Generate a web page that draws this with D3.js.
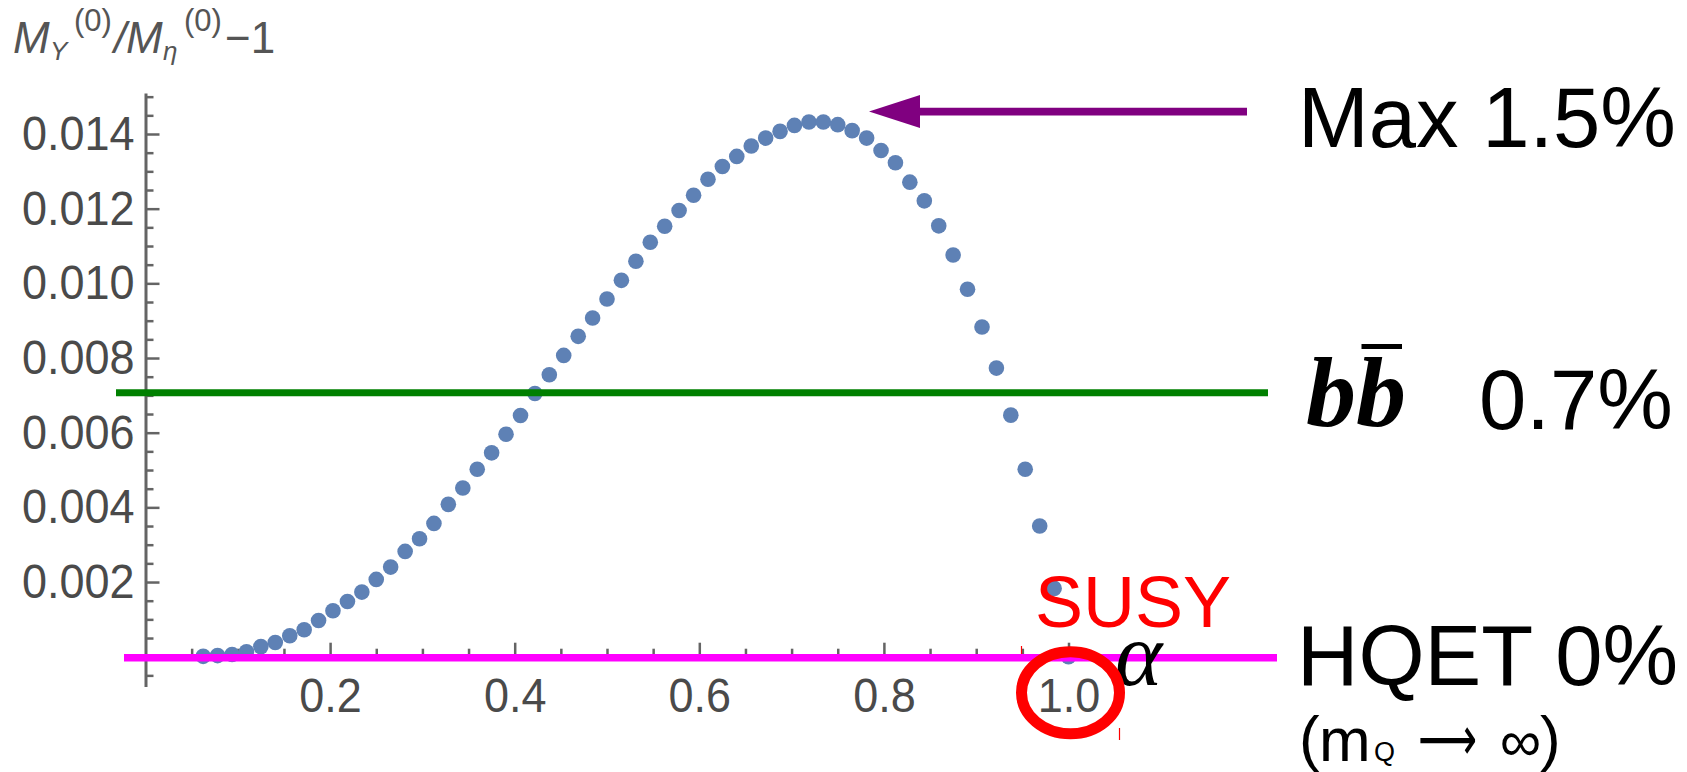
<!DOCTYPE html>
<html>
<head>
<meta charset="utf-8">
<script src="https://cdn.jsdelivr.net/npm/d3@7"></script>
<style>
  html, body { margin: 0; padding: 0; background: #fff; }
  svg { display: block; }
</style>
</head>
<body>
<svg id="chart" width="1687" height="772" font-family="Liberation Sans, Arial, sans-serif"></svg>
<script>
// ---- data ----
const alpha = [
  0.0625, 0.0781, 0.0938, 0.1094, 0.125, 0.1406, 0.1563, 0.1719, 0.1875, 0.2031,
  0.2188, 0.2344, 0.25, 0.2656, 0.2813, 0.2969, 0.3125, 0.3281, 0.3438, 0.3594,
  0.375, 0.3906, 0.4063, 0.4219, 0.4375, 0.4531, 0.4688, 0.4844, 0.5, 0.5156,
  0.5313, 0.5469, 0.5625, 0.5781, 0.5938, 0.6094, 0.625, 0.6406, 0.6563, 0.6719,
  0.6875, 0.7031, 0.7188, 0.7344, 0.75, 0.7656, 0.7813, 0.7969, 0.8125, 0.8281,
  0.8438, 0.8594, 0.875, 0.8906, 0.9063, 0.9219, 0.9375, 0.9531, 0.9688, 0.9844, 1.0
];
const ratio = [
  0.00001, 0.00003, 0.00006, 0.00013, 0.00027, 0.00038, 0.00056, 0.00072, 0.00097, 0.00123,
  0.00148, 0.00173, 0.00207, 0.00240, 0.00282, 0.00316, 0.00357, 0.00408, 0.00452, 0.00502,
  0.00546, 0.00596, 0.00646, 0.00705, 0.00755, 0.00807, 0.00858, 0.00907, 0.00958, 0.01008,
  0.01059, 0.01110, 0.01153, 0.01195, 0.01236, 0.01279, 0.01313, 0.01340, 0.01368, 0.01389,
  0.01407, 0.01423, 0.01432, 0.01432, 0.01425, 0.01409, 0.01389, 0.01356, 0.01323, 0.01271,
  0.01221, 0.01154, 0.01076, 0.00984, 0.00883, 0.00773, 0.00647, 0.00502, 0.00350, 0.00183, 0.00000
];
const xTicks = [0.2, 0.4, 0.6, 0.8, 1.0];
const xTickLabels = ["0.2", "0.4", "0.6", "0.8", "1.0"];
const xMinorTicks = [0.05, 0.1, 0.15, 0.25, 0.3, 0.35, 0.45, 0.5, 0.55, 0.65, 0.7, 0.75, 0.85, 0.9, 0.95];
const yTicks = [0.002, 0.004, 0.006, 0.008, 0.010, 0.012, 0.014];
const yTickLabels = ["0.002", "0.004", "0.006", "0.008", "0.010", "0.012", "0.014"];
const yMinorTicks = [-0.0005, 0.0005, 0.001, 0.0015, 0.0025, 0.003, 0.0035, 0.0045, 0.005, 0.0055,
  0.0065, 0.007, 0.0075, 0.0085, 0.009, 0.0095, 0.0105, 0.011, 0.0115, 0.0125, 0.013, 0.0135, 0.0145, 0.015];
const bbLevel = 0.00707;   // b b-bar line
const hqetLevel = 0;       // HQET line
const maxLevel = 0.0146;   // arrow level

// ---- scales ----
const svg = d3.select("#chart");
const x = d3.scaleLinear().domain([0, 1]).range([145.5, 1068.5]);
const y = d3.scaleLinear().domain([0, 0.014]).range([656.7, 134]);

const axisColor = "#646464";
const labelColor = "#4a4a4a";
const sans = "Liberation Sans, Arial, sans-serif";
const serif = "Liberation Serif, Times New Roman, serif";

// ---- y axis ----
const yAxisScale = y.copy().domain([-0.0008, 0.0151]).range([y(-0.0008), y(0.0151)]);
const yAxisG = svg.append("g").attr("transform", `translate(${x(0)},0)`)
  .call(d3.axisLeft(yAxisScale).tickValues(yTicks)
    .tickFormat((d, i) => yTickLabels[i])
    .tickSizeInner(-14).tickSizeOuter(0).tickPadding(11));
yAxisG.attr("font-family", sans).attr("font-size", 45);
yAxisG.select(".domain").attr("stroke", axisColor).attr("stroke-width", 3);
yAxisG.selectAll(".tick line").attr("stroke", axisColor).attr("stroke-width", 2.5);
yAxisG.selectAll(".tick text").attr("fill", labelColor).attr("transform", "scale(1,1.08)");
const yMinorG = svg.append("g").attr("transform", `translate(${x(0)},0)`)
  .call(d3.axisRight(yAxisScale).tickValues(yMinorTicks).tickFormat("").tickSizeInner(8).tickSizeOuter(0));
yMinorG.select(".domain").remove();
yMinorG.selectAll(".tick line").attr("stroke", axisColor).attr("stroke-width", 2.5);

// ---- x axis ----
const xAxisScale = x.copy().domain([0, 1.04]).range([x(0), x(1.04)]);
const xAxisG = svg.append("g").attr("transform", `translate(0,${y(0)})`)
  .call(d3.axisBottom(xAxisScale).tickValues(xTicks)
    .tickFormat((d, i) => xTickLabels[i])
    .tickSizeInner(-14).tickSizeOuter(0).tickPadding(21));
xAxisG.attr("font-family", sans).attr("font-size", 45);
xAxisG.select(".domain").attr("stroke", axisColor).attr("stroke-width", 3);
xAxisG.selectAll(".tick line").attr("stroke", axisColor).attr("stroke-width", 2.5);
xAxisG.selectAll(".tick text").attr("fill", labelColor)
  .attr("transform", "translate(0,-2) scale(1,1.08)");
const xMinorG = svg.append("g").attr("transform", `translate(0,${y(0)})`)
  .call(d3.axisTop(xAxisScale).tickValues(xMinorTicks).tickFormat("").tickSizeInner(8).tickSizeOuter(0));
xMinorG.select(".domain").remove();
xMinorG.selectAll(".tick line").attr("stroke", axisColor).attr("stroke-width", 2.5);

// ---- y axis title ----
const title = svg.append("text").attr("fill", "#555").attr("font-size", 44).attr("font-family", sans);
title.append("tspan").attr("x", 13).attr("y", 53).attr("font-style", "italic").text("M");
title.append("tspan").attr("x", 50).attr("y", 60).attr("font-size", 26).attr("font-style", "italic").text("Υ");
title.append("tspan").attr("x", 74).attr("y", 31).attr("font-size", 31).text("(0)");
title.append("tspan").attr("x", 114).attr("y", 53).attr("font-style", "italic").text("/");
title.append("tspan").attr("x", 126).attr("y", 53).attr("font-style", "italic").text("M");
title.append("tspan").attr("x", 163).attr("y", 60).attr("font-size", 26).attr("font-style", "italic").text("η");
title.append("tspan").attr("x", 184).attr("y", 31).attr("font-size", 31).text("(0)");
title.append("tspan").attr("x", 225).attr("y", 53).text("−1");

// ---- points ----
const pts = alpha.map((a, i) => ({ a, v: ratio[i] }));
svg.append("g").selectAll("circle").data(pts).join("circle")
  .attr("cx", d => x(d.a)).attr("cy", d => y(d.v)).attr("r", 7.8)
  .attr("fill", "#5E81B5");

// ---- reference lines ----
svg.append("line").attr("x1", 116).attr("x2", 1268).attr("y1", y(bbLevel)).attr("y2", y(bbLevel))
  .attr("stroke", "#008000").attr("stroke-width", 7);
svg.append("line").attr("x1", 124).attr("x2", 1277).attr("y1", y(hqetLevel) + 1).attr("y2", y(hqetLevel) + 1)
  .attr("stroke", "#FF00FF").attr("stroke-width", 7.5);

// ---- purple arrow ----
const ay = y(maxLevel);
svg.append("line").attr("x1", 915).attr("x2", 1247).attr("y1", ay).attr("y2", ay)
  .attr("stroke", "#800080").attr("stroke-width", 7.7);
svg.append("path").attr("d", `M869,${ay} L920,${ay - 16.5} L920,${ay + 16.5} Z`).attr("fill", "#800080");

// ---- right labels ----
svg.append("text").attr("x", 1298).attr("y", 147).attr("font-size", 85).attr("font-family", sans)
  .attr("fill", "#000").text("Max 1.5%");

svg.append("text").attr("x", 1306).attr("y", 426).attr("font-size", 100)
  .attr("font-family", serif)
  .attr("font-style", "italic").attr("font-weight", "bold").text("b");
svg.append("text").attr("x", 1356).attr("y", 426).attr("font-size", 100)
  .attr("font-family", serif)
  .attr("font-style", "italic").attr("font-weight", "bold").text("b");
svg.append("line").attr("x1", 1361.5).attr("x2", 1402).attr("y1", 346.5).attr("y2", 346.5)
  .attr("stroke", "#000").attr("stroke-width", 5);
svg.append("text").attr("x", 1479).attr("y", 429).attr("font-size", 85).attr("font-family", sans)
  .attr("fill", "#000").text("0.7%");

svg.append("text").attr("x", 1297).attr("y", 685).attr("font-size", 85).attr("font-family", sans)
  .attr("fill", "#000").text("HQET 0%");

const mq = svg.append("g").attr("fill", "#000").attr("font-family", sans);
mq.append("text").attr("x", 1299).attr("y", 759).attr("font-size", 62).text("(");
mq.append("text").attr("x", 1319).attr("y", 761).attr("font-size", 62).text("m");
mq.append("text").attr("x", 1374).attr("y", 761).attr("font-size", 27).text("Q");
mq.append("text").attr("x", 1418).attr("y", 760).attr("font-size", 62)
  .attr("font-family", "DejaVu Sans, sans-serif")
  .attr("textLength", 59).attr("lengthAdjust", "spacingAndGlyphs").text("⟶");
mq.append("text").attr("x", 1500).attr("y", 761).attr("font-size", 58).text("∞");
mq.append("text").attr("x", 1540).attr("y", 759).attr("font-size", 62).text(")");

// ---- alpha axis label ----
svg.append("text").attr("x", 1115).attr("y", 685).attr("font-size", 90)
  .attr("font-family", serif)
  .attr("font-style", "italic").attr("fill", "#000").text("α");

// ---- SUSY annotation ----
svg.append("text").attr("x", 1035).attr("y", 627).attr("font-size", 72).attr("font-family", sans)
  .attr("fill", "#FF0000").text("SUSY");
svg.append("ellipse").attr("cx", x(1.0) + 2).attr("cy", 692.7).attr("rx", 49).attr("ry", 41)
  .attr("fill", "none").attr("stroke", "#FF0000").attr("stroke-width", 11);
svg.append("line").attr("x1", 1021.5).attr("x2", 1021.5).attr("y1", 646).attr("y2", 654)
  .attr("stroke", "#FF0000").attr("stroke-width", 1.2);
svg.append("line").attr("x1", 1119.5).attr("x2", 1119.5).attr("y1", 728).attr("y2", 740)
  .attr("stroke", "#FF0000").attr("stroke-width", 1.2);
</script>
</body>
</html>
